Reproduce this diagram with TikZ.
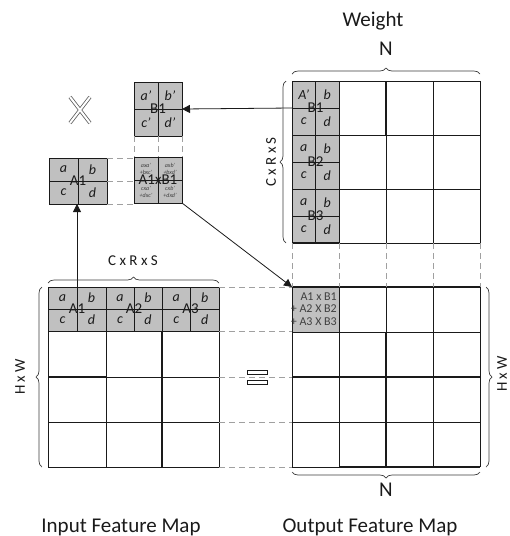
\documentclass[tikz,border=0pt]{standalone}
\usepackage{fontspec}
\setmainfont{Carlito}
\usetikzlibrary{calc,arrows.meta,decorations.pathreplacing}
\definecolor{ink}{HTML}{1A1A1A}
\definecolor{inksoft}{HTML}{404040}
\definecolor{cellgray}{HTML}{C0C0C0}
\definecolor{dashgray}{HTML}{A0A0A0}

% split a gray block into 2x2 and letter its quarters
\newcommand{\splitcell}[1]{%
  \draw[grid] (#1.north) -- (#1.south) (#1.west) -- (#1.east);}
\newcommand{\quadtext}[6][let]{%
  \node[#1] (#2-1) at ($(#2.center)!.5!(#2.north west)$) {#3};
  \node[#1] (#2-2) at ($(#2.center)!.5!(#2.north east)$) {#4};
  \node[#1] (#2-3) at ($(#2.center)!.5!(#2.south west)$) {#5};
  \node[#1] (#2-4) at ($(#2.center)!.5!(#2.south east)$) {#6};}

\begin{document}
\begin{tikzpicture}[x=1pt, y=-1pt,
  font=\fontsize{15}{17}\selectfont,
  grid/.style={draw=ink, line width=0.8pt},
  heavy/.style={draw=ink, line width=1.7pt},
  cell/.style={draw=ink, line width=0.8pt, fill=cellgray, inner sep=0pt, outer sep=0pt, text=ink},
  guide/.style={draw=dashgray, line width=0.8pt, dash pattern=on 6pt off 4pt},
  flow/.style={-{Triangle[length=8pt,width=8pt]}, line width=0.8pt, draw=ink},
  brc/.style={decorate, decoration={brace, amplitude=6pt}, draw=ink!85, line width=0.7pt},
  ttl/.style={font=\fontsize{21}{24}\selectfont, text=ink},
  dim/.style={font=\fontsize{15}{17}\selectfont, text=ink},
  let/.style={font=\fontsize{14}{16}\selectfont\itshape, text=ink, inner sep=0pt},
  mini/.style={font=\fontsize{6}{7}\selectfont\itshape, text=inksoft, align=center, inner sep=0pt},
  sumt/.style={font=\fontsize{12}{12.5}\selectfont, text=inksoft, align=right, inner sep=0pt},
  crossx/.style={draw=ink!70, double=white, double distance=2pt, line width=0.8pt},
]
\useasboundingbox (0,0) rectangle (510,536);

% ---------- weight ----------
\foreach \x in {292,339,386,433,480} \draw[grid] (\x,81) -- (\x,243);
\foreach \y in {81,135,189,243} \draw[grid] (292,\y) -- (480,\y);
\draw[heavy] (386,81) -- (386,135);
\node[cell, minimum width=47pt, minimum height=54pt] (wB1) at (315.5,108) {B1};
\node[cell, minimum width=47pt, minimum height=54pt] (wB2) at (315.5,162) {B2};
\node[cell, minimum width=47pt, minimum height=54pt] (wB3) at (315.5,216) {B3};
\draw[heavy] (wB3.south west) -- (wB3.south east);
\foreach \c in {wB1,wB2,wB3} {\splitcell{\c}}
\quadtext{wB1}{A’}{b}{c}{d}
\quadtext{wB2}{a}{b}{c}{d}
\quadtext{wB3}{a}{b}{c}{d}

% ---------- output feature map ----------
\foreach \x in {292,339,386,433,480} \draw[grid] (\x,287) -- (\x,467);
\foreach \y in {287,332,377,422,467} \draw[grid] (292,\y) -- (480,\y);
\draw[heavy] (292,287) -- (480,287);
\draw[heavy] (386,332) -- (386,467);
\draw[heavy] (292,377) -- (480,377);
\draw[heavy] (339,467) -- (480,467);
\node[cell, minimum width=47pt, minimum height=45pt] (oC) at (315.5,309.5) {};
\node[sumt, anchor=east] (oCt) at (337,309) {A1 x B1\\+ A2 X B2\\+ A3 X B3};

% ---------- input feature map ----------
\foreach \x in {48,106,162,219} \draw[grid] (\x,287) -- (\x,467);
\foreach \y in {287,331,377,422,467} \draw[grid] (48,\y) -- (219,\y);
\draw[heavy] (162,287) -- (162,467);
\draw[heavy] (48,377) -- (106,377);
\node[cell, minimum width=58pt, minimum height=44pt] (iA1) at (77,309) {A1};
\node[cell, minimum width=56pt, minimum height=44pt] (iA2) at (134,309) {A2};
\node[cell, minimum width=57pt, minimum height=44pt] (iA3) at (190.5,309) {A3};
\foreach \c in {iA1,iA2,iA3} {\splitcell{\c}}
\quadtext{iA1}{a}{b}{c}{d}
\quadtext{iA2}{a}{b}{c}{d}
\quadtext{iA3}{a}{b}{c}{d}

% ---------- single product ----------
\node[cell, minimum width=48pt, minimum height=54pt] (B1) at (158,109) {B1};
\node[cell, minimum width=58pt, minimum height=46pt] (A1) at (78,181) {A1};
\node[cell, minimum width=48pt, minimum height=46pt] (AB) at (158,180) {};
\quadtext[mini]{AB}{axa’\\+bxc’}{axb’\\+bxd’}{cxa’\\+dxc’}{cxb’\\+dxd’}
\node[inner sep=0pt, text=ink] (ABt) at (AB.center) {A1xB1};
\foreach \c in {B1,A1,AB} {\splitcell{\c}}
\quadtext{B1}{a’}{b’}{c’}{d’}
\quadtext{A1}{a}{b}{c}{d}

% times / equals
\draw[crossx] (70,97) -- (90,123) (90,97) -- (70,123);
\draw[ink, line width=0.7pt] (247,370) rectangle (267,374) (247,380) rectangle (267,384);

% ---------- guides ----------
\draw[guide] (B1.south west) -- (AB.north west);
\draw[guide] (B1.south) -- (AB.north);
\draw[guide] (B1.south east) -- (AB.north east);
\draw[guide] (A1.north east) -- (A1.north east -| AB.west);
\draw[guide] (A1.east) -- (A1.east -| AB.west);
\draw[guide] (A1.south east) -- (A1.south east -| AB.west);
\foreach \x in {292,339,386,433,480} \draw[guide] (\x,243) -- (\x,287);
\foreach \y in {287,331,377,422,467} \draw[guide] (219,\y) -- (292,\y);

% ---------- arrows ----------
\draw[flow] (wB1.west) -- (B1.east);
\draw[flow] (iA1.north) -- (iA1.north |- A1.south);
\draw[flow] (AB.south east) -- (oC.north west);

% ---------- braces + titles ----------
\draw[brc] (292,74) -- (480,74);
\node[ttl] (wN) at (386,49) {N};
\node[ttl] (wT) at (373,21) {Weight};
\draw[brc] (286,243) -- (286,81);
\node[dim, rotate=90] (wD) at (271,162) {C x R x S};
\draw[brc] (48,283) -- (219,283);
\node[dim] (iD) at (133,261) {C x R x S};
\draw[brc] (42,467) -- (42,287);
\node[dim, rotate=90] (iH) at (20,377) {H x W};
\draw[brc] (486,287) -- (486,467);
\node[dim, rotate=90] (oH) at (502,374) {H x W};
\draw[brc] (480,472) -- (292,472);
\node[ttl] (oN) at (386,490) {N};
\node[ttl] (iT) at (121,527) {Input Feature Map};
\node[ttl] (oT) at (370,527) {Output Feature Map};

\end{tikzpicture}
\end{document}
